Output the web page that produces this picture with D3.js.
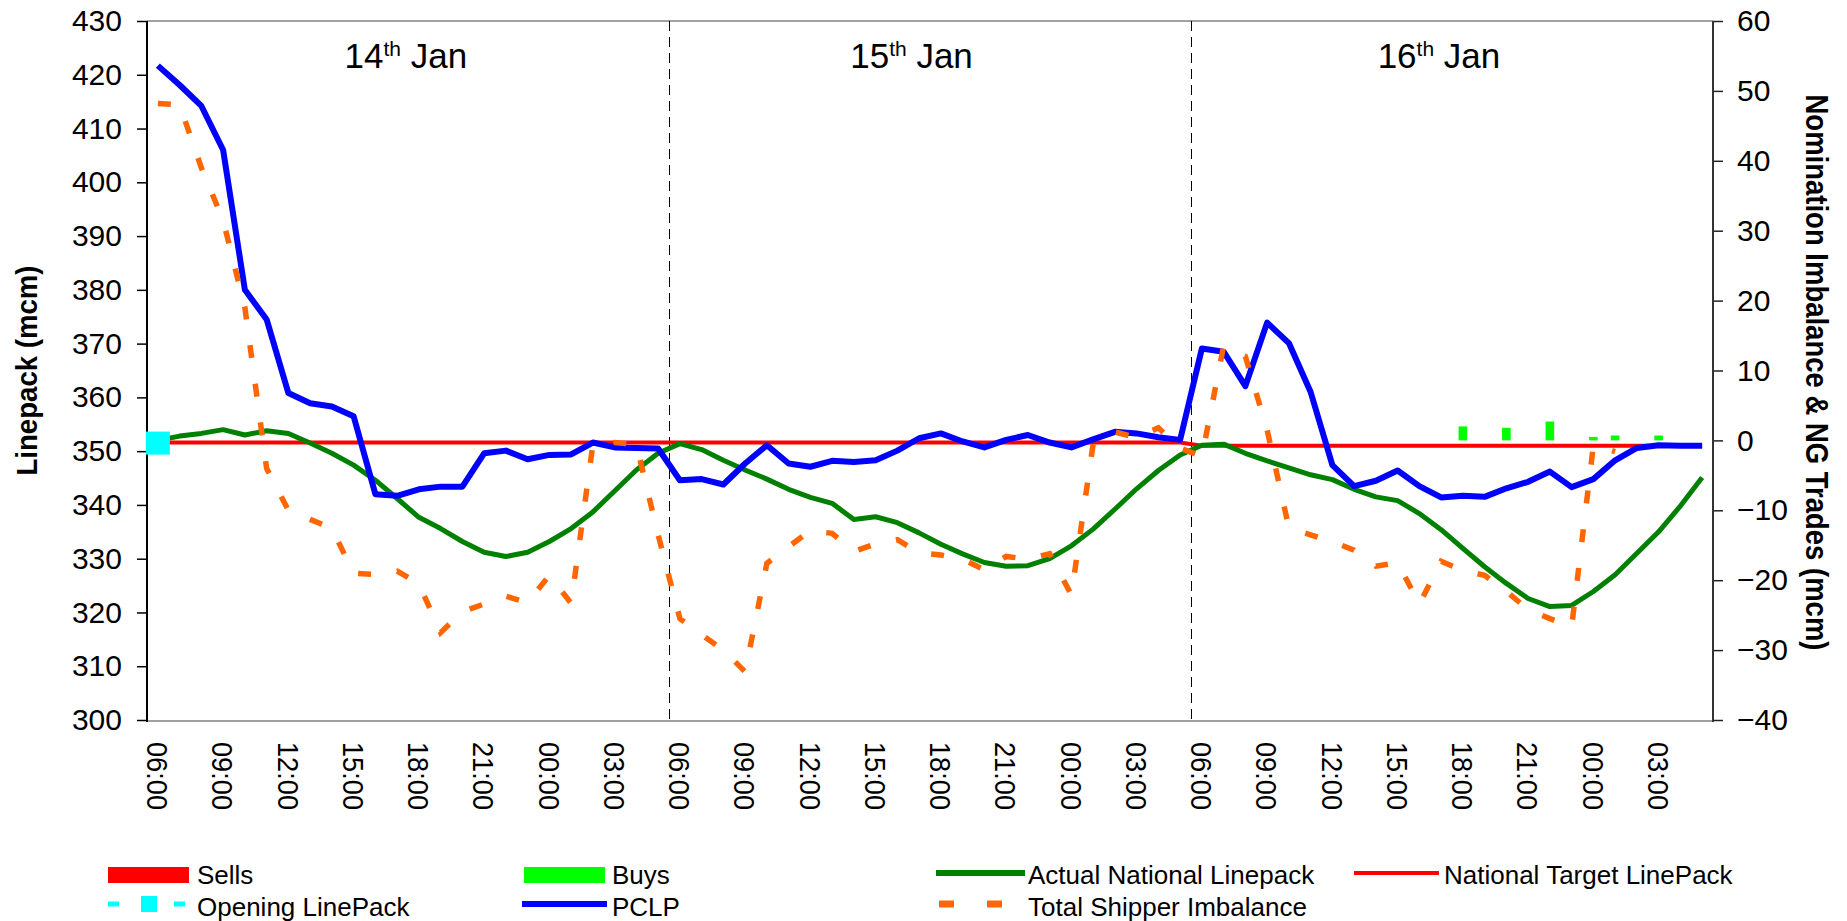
<!DOCTYPE html>
<html><head><meta charset="utf-8">
<script src="https://cdn.jsdelivr.net/npm/d3@7/dist/d3.min.js"></script>
<style>
body{margin:0;background:#fff}
svg{display:block}
text{font-family:"Liberation Sans",Arial,Helvetica,sans-serif;fill:#000}
</style>
</head><body>
<script>
// ---------- DATA ----------
const categories = [
 "06:00","07:00","08:00","09:00","10:00","11:00","12:00","13:00","14:00","15:00","16:00","17:00",
 "18:00","19:00","20:00","21:00","22:00","23:00","00:00","01:00","02:00","03:00","04:00","05:00",
 "06:00","07:00","08:00","09:00","10:00","11:00","12:00","13:00","14:00","15:00","16:00","17:00",
 "18:00","19:00","20:00","21:00","22:00","23:00","00:00","01:00","02:00","03:00","04:00","05:00",
 "06:00","07:00","08:00","09:00","10:00","11:00","12:00","13:00","14:00","15:00","16:00","17:00",
 "18:00","19:00","20:00","21:00","22:00","23:00","00:00","01:00","02:00","03:00","04:00","05:00"];
const tickLabels = ["06:00","09:00","12:00","15:00","18:00","21:00","00:00","03:00",
 "06:00","09:00","12:00","15:00","18:00","21:00","00:00","03:00",
 "06:00","09:00","12:00","15:00","18:00","21:00","00:00","03:00"];
const dayNumbers = ["14","15","16"];
const daySuffix = ["th","th","th"];
const dayMonth = ["Jan","Jan","Jan"];
const leftTicks = [300,310,320,330,340,350,360,370,380,390,400,410,420,430];
const rightTicks = [-40,-30,-20,-10,0,10,20,30,40,50,60];

const pclp = [421.7,418.1,414.2,406.0,380.0,374.5,360.8,358.9,358.3,356.5,342.0,341.7,
 342.9,343.4,343.4,349.6,350.1,348.5,349.3,349.4,351.6,350.7,350.6,350.5,
 344.6,344.8,343.8,347.7,351.1,347.7,347.1,348.2,348.0,348.3,350.1,352.4,
 353.3,351.8,350.7,352.1,353.0,351.6,350.7,352.2,353.6,353.3,352.6,352.1,
 369.1,368.5,362.1,373.9,370.1,361.0,347.4,343.5,344.5,346.4,343.5,341.4,
 341.7,341.5,343.1,344.3,346.2,343.3,344.8,348.3,350.6,351.1,351.0,351.0];
const actualLinepack = [352.0,352.8,353.3,354.0,353.0,353.8,353.3,351.5,349.6,347.4,344.6,341.2,
 337.7,335.6,333.2,331.2,330.4,331.2,333.2,335.6,338.7,342.6,346.5,349.6,
 351.4,350.3,348.3,346.5,344.8,342.9,341.4,340.3,337.3,337.8,336.7,334.8,
 332.7,330.9,329.3,328.6,328.7,330.0,332.4,335.5,339.2,343.0,346.4,349.3,
 351.1,351.3,349.6,348.2,346.9,345.6,344.7,342.9,341.5,340.8,338.4,335.4,
 331.9,328.5,325.4,322.6,321.1,321.3,323.9,327.0,331.0,335.0,339.8,345.1];
const targetLinepack = [351.6,351.6,351.6,351.6,351.6,351.6,351.6,351.6,351.6,351.6,351.6,351.6,
 351.6,351.6,351.6,351.6,351.6,351.6,351.6,351.6,351.6,351.6,351.6,351.6,
 351.6,351.6,351.6,351.6,351.6,351.6,351.6,351.6,351.6,351.6,351.6,351.6,
 351.6,351.6,351.6,351.6,351.6,351.6,351.6,351.6,351.6,351.6,351.6,351.6,
 351.0,351.0,351.0,351.0,351.0,351.0,351.0,351.0,351.0,351.0,351.0,351.0,
 351.0,351.0,351.0,351.0,351.0,351.0,351.0,351.0,351.0,351.0,351.0,351.0];
const openingLinepack = [351.5];
const shipperImbalance = [48.2,48.0,39.0,31.5,19.0,-4.0,-10.0,-11.3,-12.6,-19.0,-19.2,-18.7,
 -20.5,-27.5,-24.5,-23.4,-22.3,-23.2,-19.3,-23.3,-0.6,-0.3,-0.6,-13.5,
 -25.5,-27.8,-30.0,-33.1,-17.6,-15.2,-12.9,-13.3,-15.9,-14.8,-14.2,-16.1,
 -16.4,-17.0,-18.5,-16.6,-17.0,-16.2,-22.1,-0.5,1.2,0.4,1.8,-1.1,
 -2.3,13.5,12.0,1.5,-12.5,-13.5,-14.5,-15.7,-18.0,-17.5,-23.4,-17.3,
 -18.6,-19.3,-21.6,-24.2,-25.5,-26.7,-0.7,-1.6];
const buys = [0,0,0,0,0,0,0,0,0,0,0,0, 0,0,0,0,0,0,0,0,0,0,0,0,
 0,0,0,0,0,0,0,0,0,0,0,0, 0,0,0,0,0,0,0,0,0,0,0,0,
 0,0,0,0,0,0,0,0,0,0,0,0, 2.0,0,1.8,0,2.7,0,0.5,0.7,0,0.7,0,0];
const sells = [0,0,0,0,0,0,0,0,0,0,0,0, 0,0,0,0,0,0,0,0,0,0,0,0,
 0,0,0,0,0,0,0,0,0,0,0,0, 0,0,0,0,0,0,0,0,0,0,0,0,
 0,0,0,0,0,0,0,0,0,0,0,0, 0,0,0,0,0,0,0,0,0,0,0,0];

// ---------- LAYOUT ----------
const W = 1847, H = 921;
const P = {l:147, r:1713, t:21, b:720};
const dayLabelCenters = [11.9, 35.15, 59.4];   // in category units

const svg = d3.select("body").append("svg").attr("width", W).attr("height", H);

const x = d3.scaleBand().domain(d3.range(categories.length)).range([P.l, P.r]);
const cx = i => x(i) + x.bandwidth() / 2;
const xu = d3.scaleLinear().domain([0, categories.length]).range([P.l, P.r]);
const yL = d3.scaleLinear().domain([300, 430]).range([P.b, P.t]);
const yR = d3.scaleLinear().domain([-40, 60]).range([P.b, P.t]);

// frame top / bottom
svg.append("line").attr("x1", P.l).attr("x2", P.r).attr("y1", P.t).attr("y2", P.t)
  .attr("stroke", "#a0a0a0").attr("stroke-width", 2);
svg.append("line").attr("x1", P.l).attr("x2", P.r).attr("y1", P.b + 1).attr("y2", P.b + 1)
  .attr("stroke", "#a0a0a0").attr("stroke-width", 2);

// day separators
[24, 48].forEach(i => {
  const xx = Math.round(x(i)) + 0.5;
  svg.append("line").attr("x1", xx).attr("x2", xx).attr("y1", P.t).attr("y2", P.b)
    .attr("stroke", "#000").attr("stroke-width", 1).attr("stroke-dasharray", "10,6")
    .attr("shape-rendering", "crispEdges");
});

// day labels
dayNumbers.forEach((d, k) => {
  const t = svg.append("text").attr("x", xu(dayLabelCenters[k])).attr("y", 68)
    .attr("text-anchor", "middle").style("font-size", "35px");
  t.append("tspan").text(d);
  t.append("tspan").text(daySuffix[k]).style("font-size", "21px").attr("dy", -12);
  t.append("tspan").text("\u00a0" + dayMonth[k]).attr("dy", 12);
});

// left axis
const gL = svg.append("g").attr("transform", `translate(${P.l},0)`)
  .call(d3.axisLeft(yL).tickValues(leftTicks).tickFormat(d3.format("d")).tickSize(10).tickPadding(15).tickSizeOuter(0));
gL.select(".domain").remove();
gL.selectAll(".tick line").attr("stroke", "#000").attr("stroke-width", 1.5);
gL.selectAll(".tick text").style("font-size", "30px").attr("font-family", null);
svg.append("line").attr("x1", P.l).attr("x2", P.l).attr("y1", P.t).attr("y2", P.b + 2)
  .attr("stroke", "#000").attr("stroke-width", 2);

// right axis
const gR = svg.append("g").attr("transform", `translate(${P.r},0)`)
  .call(d3.axisRight(yR).tickValues(rightTicks).tickFormat(d3.format("d")).tickSize(10).tickPadding(14).tickSizeOuter(0));
gR.select(".domain").remove();
gR.selectAll(".tick line").attr("stroke", "#222").attr("stroke-width", 1.5);
gR.selectAll(".tick text").style("font-size", "30px").attr("font-family", null);
svg.append("line").attr("x1", P.r).attr("x2", P.r).attr("y1", P.t).attr("y2", P.b + 2)
  .attr("stroke", "#333").attr("stroke-width", 2);

// bottom axis (category labels, rotated)
const tickIdx = d3.range(0, categories.length, 3);
const gB = svg.append("g").attr("transform", `translate(0,${P.b})`)
  .call(d3.axisBottom(x).tickValues(tickIdx).tickFormat((d, k) => tickLabels[k]).tickSize(0));
gB.select(".domain").remove();
gB.selectAll(".tick text")
  .attr("font-family", null)
  .style("font-size", "30px")
  .attr("transform", "rotate(90)")
  .attr("x", 22).attr("y", 0).attr("dy", "0.36em")
  .attr("textLength", 68).attr("lengthAdjust", "spacingAndGlyphs")
  .style("text-anchor", "start");

// axis titles
svg.append("text").attr("transform", `translate(37,${(P.t + P.b) / 2}) rotate(-90)`)
  .attr("text-anchor", "middle").style("font-size", "30px").style("font-weight", "bold")
  .attr("textLength", 210).attr("lengthAdjust", "spacingAndGlyphs")
  .text("Linepack (mcm)");
svg.append("text").attr("transform", `translate(1806,${(P.t + P.b) / 2 + 2}) rotate(90)`)
  .attr("text-anchor", "middle").style("font-size", "31px").style("font-weight", "bold")
  .attr("textLength", 556).attr("lengthAdjust", "spacingAndGlyphs")
  .text("Nomination Imbalance & NG Trades (mcm)");

// bars (right axis)
const barW = 8.6;
svg.append("g").selectAll("rect").data(buys.map((v, i) => ({v, i})).filter(d => d.v !== 0))
  .join("rect")
  .attr("x", d => cx(d.i) - barW / 2).attr("width", barW)
  .attr("y", d => Math.min(yR(d.v), yR(0))).attr("height", d => Math.abs(yR(0) - yR(d.v)))
  .attr("fill", "#00ff00");
svg.append("g").selectAll("rect").data(sells.map((v, i) => ({v, i})).filter(d => d.v !== 0))
  .join("rect")
  .attr("x", d => cx(d.i) - barW / 2).attr("width", barW)
  .attr("y", d => Math.min(yR(d.v), yR(0))).attr("height", d => Math.abs(yR(0) - yR(d.v)))
  .attr("fill", "#ff0000");

// lines
const lineL = d3.line().x((d, i) => cx(i)).y(d => yL(d));
const lineR = d3.line().x((d, i) => cx(i)).y(d => yR(d));
svg.append("path").datum(targetLinepack).attr("d", lineL)
  .attr("fill", "none").attr("stroke", "#ff0000").attr("stroke-width", 4);
svg.append("path").datum(actualLinepack).attr("d", lineL)
  .attr("fill", "none").attr("stroke", "#008000").attr("stroke-width", 5).attr("stroke-linejoin", "round");
svg.append("path").datum(pclp).attr("d", lineL)
  .attr("fill", "none").attr("stroke", "#0000ff").attr("stroke-width", 6).attr("stroke-linejoin", "round");
svg.append("path").datum(shipperImbalance).attr("d", lineR)
  .attr("fill", "none").attr("stroke", "#ff6600").attr("stroke-width", 5.5)
  .attr("stroke-dasharray", "13,26");

// opening linepack marker
svg.append("g").selectAll("rect").data(openingLinepack).join("rect")
  .attr("x", (d, i) => cx(i) - 12).attr("y", d => yL(d) - 11.5)
  .attr("width", 24).attr("height", 23).attr("fill", "#00ffff");

// legend
const lg = svg.append("g").style("font-size", "26px");
const row1 = 875, row2 = 907;
function ltext(xp, yp, t) {
  lg.append("text").attr("x", xp).attr("y", yp).attr("dy", "0.35em").text(t);
}
lg.append("rect").attr("x", 108).attr("y", row1 - 8).attr("width", 81).attr("height", 16).attr("fill", "#ff0000");
ltext(197, row1, "Sells");
lg.append("rect").attr("x", 524).attr("y", row1 - 8).attr("width", 81).attr("height", 16).attr("fill", "#00ff00");
ltext(612, row1, "Buys");
lg.append("line").attr("x1", 936).attr("x2", 1025).attr("y1", row1 - 2).attr("y2", row1 - 2)
  .attr("stroke", "#008000").attr("stroke-width", 6);
ltext(1028, row1, "Actual National Linepack");
lg.append("line").attr("x1", 1354).attr("x2", 1439).attr("y1", row1 - 2).attr("y2", row1 - 2)
  .attr("stroke", "#ff0000").attr("stroke-width", 4);
ltext(1444, row1, "National Target LinePack");
lg.append("line").attr("x1", 108).attr("x2", 188).attr("y1", row2 - 3).attr("y2", row2 - 3)
  .attr("stroke", "#00ffff").attr("stroke-width", 5).attr("stroke-dasharray", "11,22");
lg.append("rect").attr("x", 141).attr("y", row2 - 11).attr("width", 16).attr("height", 16).attr("fill", "#00ffff");
ltext(197, row2, "Opening LinePack");
lg.append("line").attr("x1", 522).attr("x2", 607).attr("y1", row2 - 3).attr("y2", row2 - 3)
  .attr("stroke", "#0000ff").attr("stroke-width", 6);
ltext(612, row2, "PCLP");
lg.append("line").attr("x1", 939).attr("x2", 1002).attr("y1", row2 - 3).attr("y2", row2 - 3)
  .attr("stroke", "#ff6600").attr("stroke-width", 7).attr("stroke-dasharray", "15,33");
ltext(1028, row2, "Total Shipper Imbalance");
</script>
</body></html>
